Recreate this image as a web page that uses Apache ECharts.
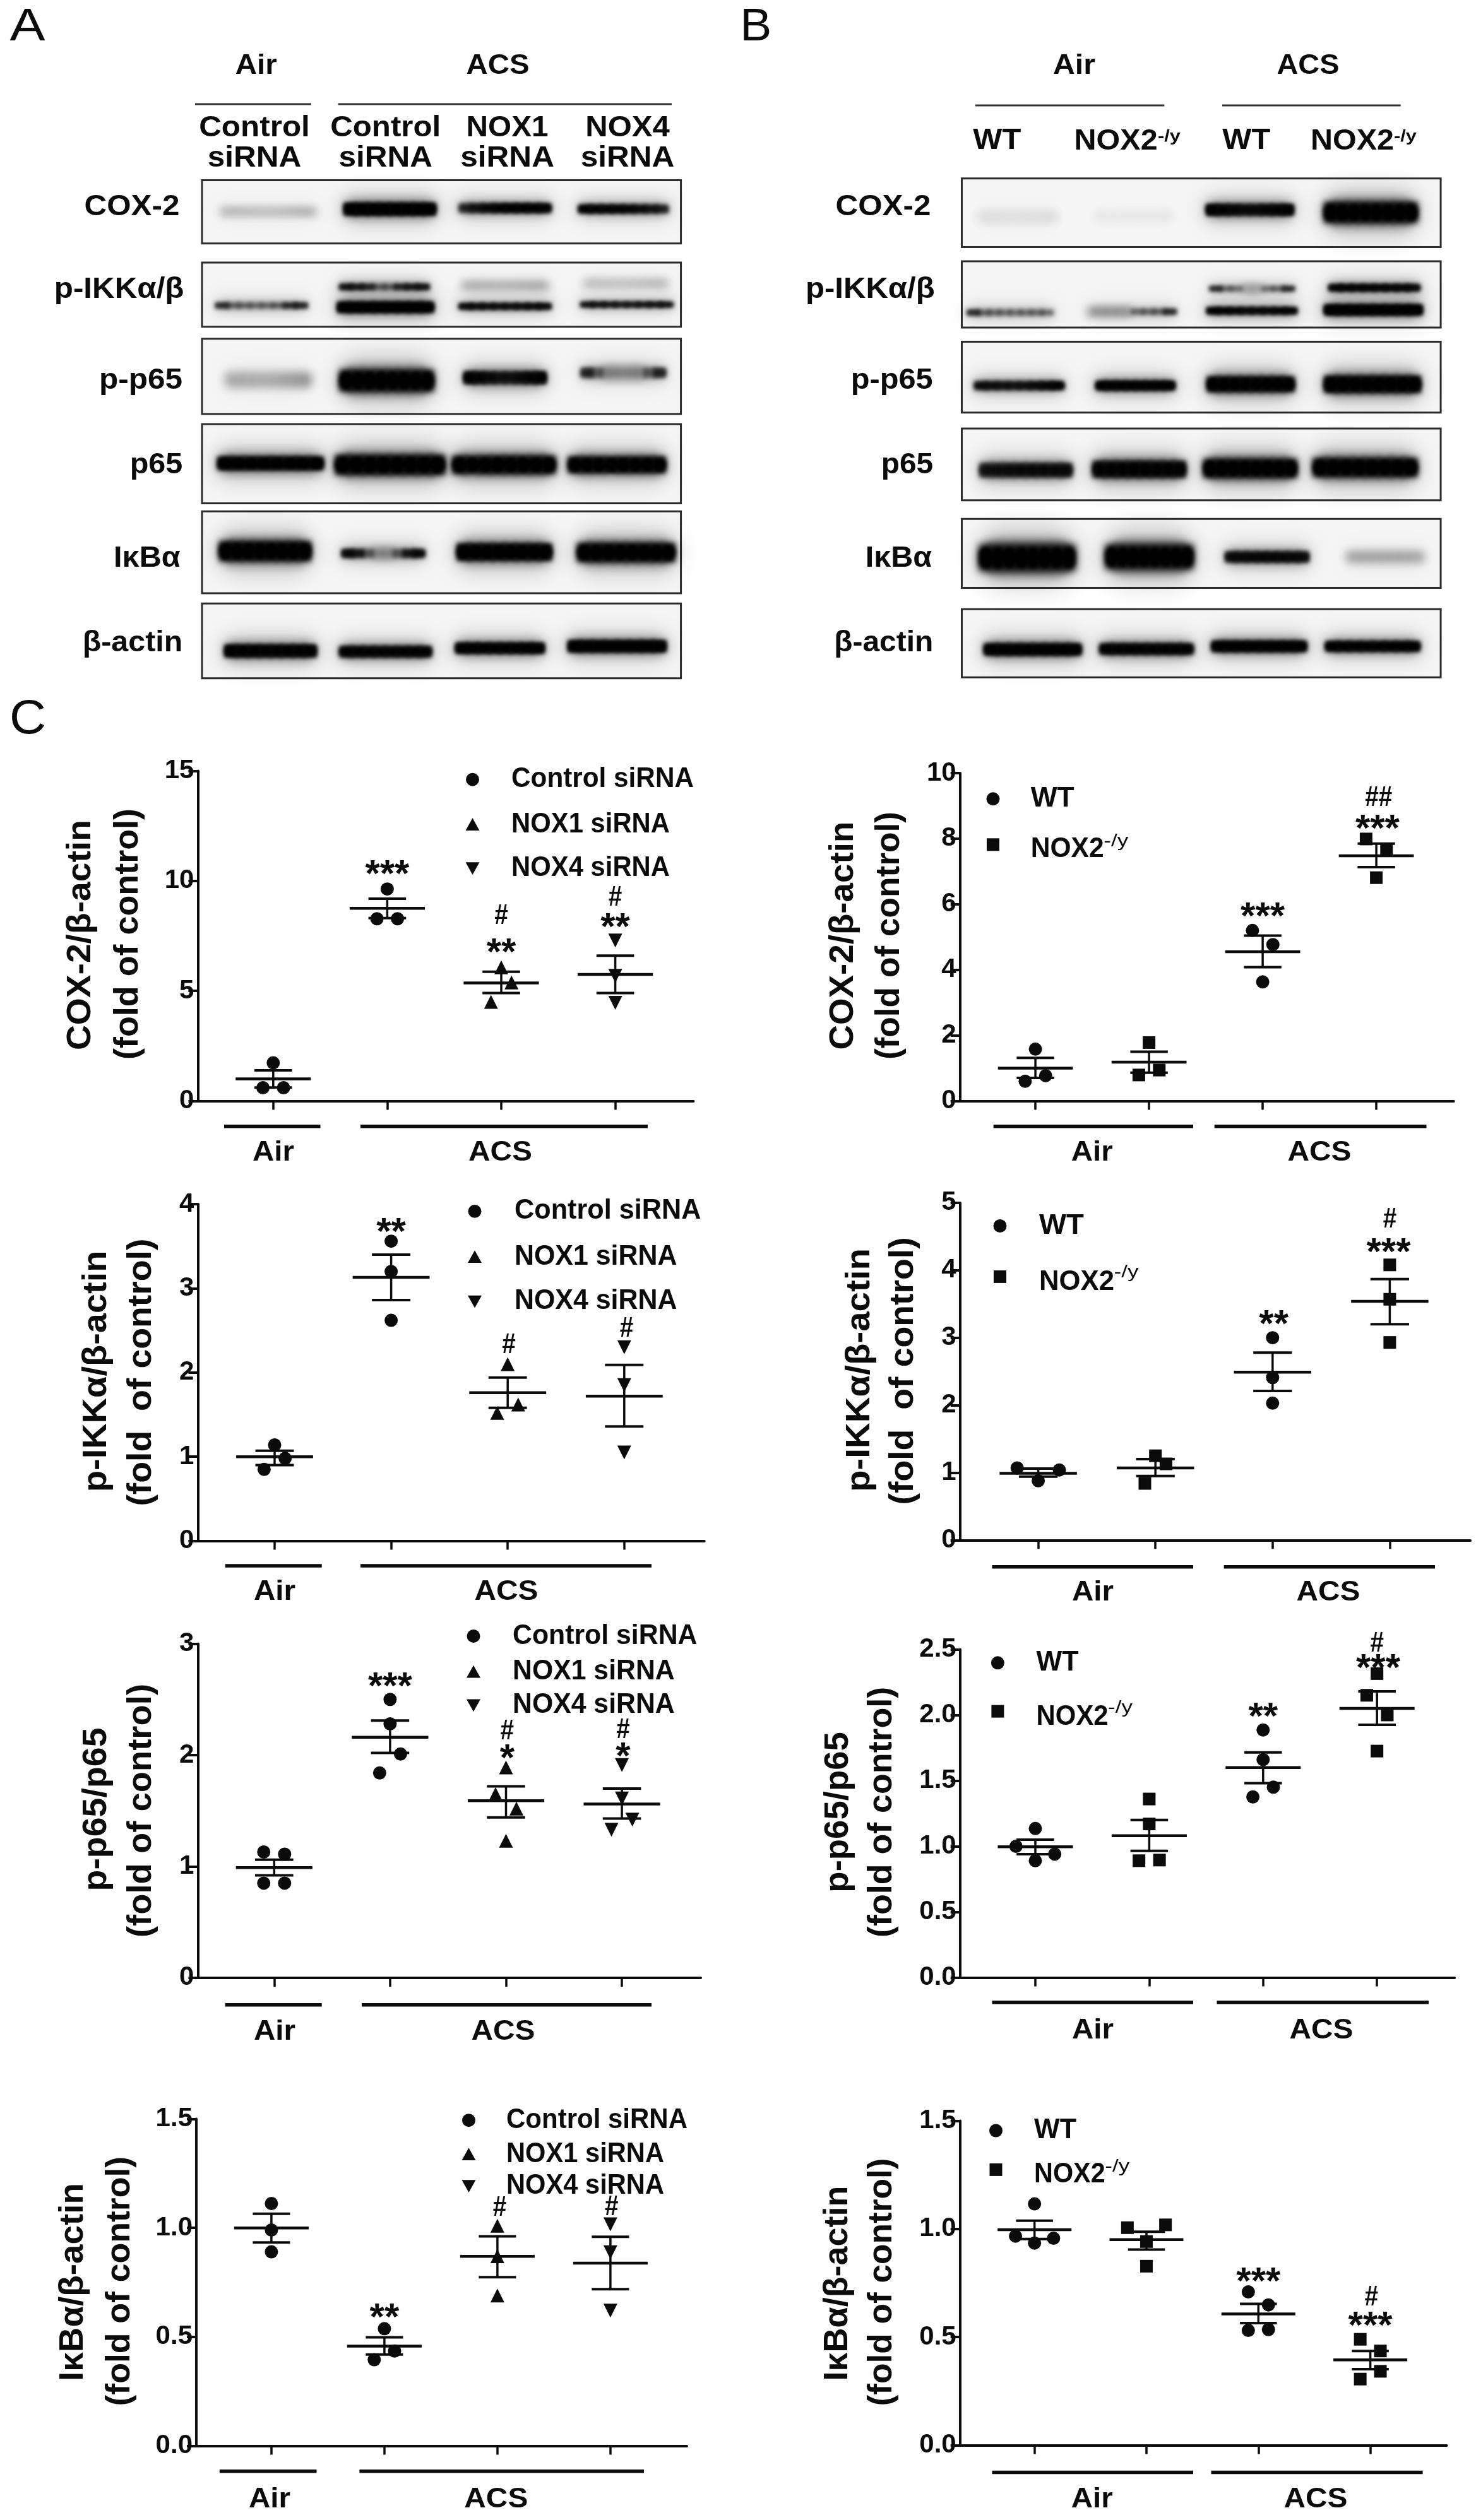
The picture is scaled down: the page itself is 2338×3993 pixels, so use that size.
<!DOCTYPE html>
<html><head><meta charset="utf-8">
<style>html,body{margin:0;padding:0;background:#fff}#c{width:2338px;height:3993px}</style>
<script src="https://cdn.jsdelivr.net/npm/echarts@6/dist/echarts.min.js"></script>
</head><body><div id="c"></div>
<script>
// ---------- categories / tick labels ----------
const treatmentGroups = ['Control siRNA', 'NOX1 siRNA', 'NOX4 siRNA'];
const genotypeGroups = ['WT', 'NOX2'];
const proteinRows = ['COX-2', 'p-IKKα/β', 'p-p65', 'p65', 'IκBα', 'β-actin'];

// ---------- quantification: points [x, value] ----------
const cox2A_control = [[1,1.73],[0.91,0.6],[1.09,0.6],[2,9.63],[1.91,8.28],[2.09,8.28]];
const cox2A_nox1 = [[3,6.07],[3.09,5.38],[2.91,4.5]];
const cox2A_nox4 = [[4,7.29],[4,5.68],[4,4.46]];
const cox2A_stats = [[1,1.0,1.39,0.61],[2,8.75,9.19,8.31],[3,5.36,5.87,4.9],[4,5.75,6.6,4.9]];
const cox2A_sig = [[2,10.62,'***'],[3,8.38,'#'],[3,7.04,'**'],[4,9.22,'#'],[4,8.2,'**']];

const cox2B_wt = [[1,1.58],[0.91,0.6],[1.09,0.77],[3,3.63],[2.91,5.2],[3.09,4.77]];
const cox2B_nox2 = [[2,1.78],[1.91,0.79],[2.09,0.94],[3.91,7.99],[4.09,7.64],[4,6.81]];
const cox2B_stats = [[1,1.0,1.31,0.7],[2,1.18,1.5,0.86],[3,4.55,5.04,4.08],[4,7.48,7.85,7.13]];
const cox2B_sig = [[3,5.83,'***'],[4.01,8.5,'***'],[4.02,9.24,'##']];

const ikkA_control = [[1,1.14],[1.09,0.98],[0.91,0.85],[2,3.56],[2,3.2],[2,2.62]];
const ikkA_nox1 = [[3,2.1],[3.09,1.62],[2.91,1.52]];
const ikkA_nox4 = [[4,2.3],[4,1.85],[4,1.05]];
const ikkA_stats = [[1,1.0,1.07,0.9],[2,3.13,3.4,2.86],[3,1.76,1.94,1.58],[4,1.72,2.09,1.36]];
const ikkA_sig = [[2,3.75,'**'],[3.01,2.32,'#'],[4.02,2.52,'#']];

const ikkB_wt = [[0.82,1.07],[1.18,1.04],[1,0.88],[3,3.0],[3,2.41],[3,2.03]];
const ikkB_nox2 = [[2,1.25],[2.09,1.13],[1.91,0.84],[4,4.08],[4,3.57],[4,2.93]];
const ikkB_stats = [[1,0.99,1.06,0.94],[2,1.07,1.2,0.95],[3,2.49,2.78,2.21],[4,3.54,3.87,3.2]];
const ikkB_sig = [[3.01,3.3,'**'],[3.99,4.37,'***'],[4,4.75,'#']];

const p65A_control = [[0.91,1.13],[1.09,1.11],[0.91,0.85],[1.09,0.85],[2,2.5],[2,2.28],[2.09,2.01],[1.91,1.84]];
const p65A_nox1 = [[3,1.89],[2.91,1.65],[3.09,1.52],[3,1.23]];
const p65A_nox4 = [[4,1.91],[4,1.61],[4.09,1.42],[3.91,1.33]];
const p65A_stats = [[1,0.99,1.06,0.92],[2,2.16,2.31,2.02],[3,1.59,1.72,1.44],[4,1.56,1.7,1.43]];
const p65A_sig = [[2,2.68,'***'],[3.01,2.21,'#'],[3.01,2.03,'*'],[4.01,2.22,'#'],[4.01,2.05,'*']];

const p65B_wt = [[1,1.135],[0.83,1.0],[1.17,0.94],[1,0.89],[3,1.886],[3,1.66],[3.09,1.45],[2.91,1.376]];
const p65B_nox2 = [[2,1.36],[2,1.17],[2.09,0.895],[1.91,0.89],[4,2.315],[3.91,2.15],[4.09,2.0],[4,1.725]];
const p65B_stats = [[1,0.996,1.05,0.94],[2,1.08,1.2,0.965],[3,1.6,1.715,1.48],[4,2.05,2.18,1.925]];
const p65B_sig = [[3,2.04,'**'],[4.01,2.41,'***'],[4,2.54,'#']];

const ikbA_control = [[1,1.112],[1,0.99],[1,0.89],[2,0.5375],[2.09,0.435],[1.91,0.395]];
const ikbA_nox1 = [[3,1.01],[3,0.87],[3,0.69]];
const ikbA_nox4 = [[4,1.016],[4,0.888],[4,0.62]];
const ikbA_stats = [[1,1.0,1.065,0.933],[2,0.457,0.498,0.419],[3,0.869,0.961,0.774],[4,0.838,0.959,0.719]];
const ikbA_sig = [[2,0.62,'**'],[3.02,1.09,'#'],[4.01,1.093,'#']];

const ikbB_wt = [[1,1.116],[0.83,0.967],[1.17,0.957],[1,0.935],[2.91,0.709],[3.09,0.649],[2.91,0.531],[3.09,0.535]];
const ikbB_nox2 = [[1.83,1.006],[2.17,1.019],[2,0.942],[2,0.828],[3.91,0.49],[4.09,0.436],[4.09,0.342],[3.91,0.306]];
const ikbB_stats = [[1,0.997,1.038,0.954],[2,0.951,0.987,0.905],[3,0.607,0.654,0.565],[4,0.395,0.436,0.352]];
const ikbB_sig = [[3,0.789,'***'],[4,0.583,'***'],[4.01,0.681,'#']];

// ---------- western blots: bands [from, to, centre, thickness, density left, mid, right] ----------
const blotA_cox2 = [[490,700,478,14,.3,.22,.35],[765,965,472,30,1,1,1],[1020,1220,470,22,.55,1,.95],[1285,1480,472,20,.95,.9,.6]];
const blotA_ikk = [[480,680,690,14,.65,.5,.7],[750,960,694,26,1,1,1],[755,950,648,14,.85,.55,.85],[1020,1220,692,14,.9,.8,.9],[1025,1215,645,14,.32,.28,.38],[1290,1490,688,12,.85,.75,.85],[1295,1480,640,14,.25,.2,.3]];
const blotA_pp65 = [[500,690,858,30,.25,.2,.38],[755,960,860,50,1,1,1],[1030,1210,853,30,1,.65,1],[1290,1475,842,24,.65,.38,.65]];
const blotA_p65 = [[485,715,1047,34,1,1,1],[745,985,1050,46,1,1,1],[1005,1230,1050,42,1,1,1],[1262,1475,1050,38,1,1,1]];
const blotA_ikb = [[488,688,1245,46,1,1,1],[760,940,1250,20,.95,.3,.95],[1015,1222,1247,40,1,1,1],[1282,1495,1248,44,1,1,1]];
const blotA_actin = [[500,700,1470,30,1,.95,.95],[755,955,1472,26,.95,.9,.95],[1012,1205,1464,26,1,.95,1],[1262,1475,1460,28,1,1,1]];
const blotB_cox2 = [[535,700,490,30,.07,.06,.08],[775,940,488,26,.04,.04,.05],[1010,1188,474,28,1,.75,1],[1255,1445,480,48,1,1,1]];
const blotB_ikk = [[515,690,706,14,.65,.5,.55],[765,945,704,14,.5,.5,.65],[1012,1195,702,16,1,.85,.95],[1018,1190,652,12,.7,.4,.7],[1255,1455,700,26,1,1,1],[1265,1450,650,16,.95,.95,.9]];
const blotB_pp65 = [[530,712,871,20,.8,.7,1],[782,942,871,22,1,1,1],[1012,1190,868,36,1,1,1],[1255,1452,868,40,1,1,1]];
const blotB_p65 = [[540,730,1062,34,.7,.8,.8],[775,965,1060,40,.9,.95,.9],[1005,1195,1058,44,1,1,1],[1232,1445,1056,44,1,1,1]];
const blotB_ikb = [[540,735,1260,60,1,1,1],[802,980,1258,56,1,1,1],[1050,1220,1258,26,.8,.85,.8],[1300,1460,1258,22,.3,.3,.28]];
const blotB_actin = [[550,748,1467,28,1,1,1],[790,980,1466,26,.95,.95,.95],[1022,1215,1460,26,1,1,1],[1258,1450,1460,24,1,.95,1]];

// ---------- layout (no data here) ----------
const SANS = '"Liberation Sans", Arial, sans-serif';
const INK = '#0b0b0b';
const blots = [
 {b:blotA_cox2,x:[448,1510],y:[407,550],sx:1.4,ox:0},{b:blotA_ikk,x:[448,1510],y:[593,738],sx:1.4,ox:0},
 {b:blotA_pp65,x:[448,1510],y:[765,935],sx:1.4,ox:0},{b:blotA_p65,x:[448,1510],y:[958,1137],sx:1.4,ox:0},
 {b:blotA_ikb,x:[448,1510],y:[1155,1340],sx:1.4,ox:0},{b:blotA_actin,x:[448,1510],y:[1363,1532],sx:1.4,ox:0},
 {b:blotB_cox2,x:[502,1495],y:[403,558],sx:1.309,ox:1140},{b:blotB_ikk,x:[502,1495],y:[590,740],sx:1.309,ox:1140},
 {b:blotB_pp65,x:[502,1495],y:[772,932],sx:1.309,ox:1140},{b:blotB_p65,x:[502,1495],y:[968,1130],sx:1.309,ox:1140},
 {b:blotB_ikb,x:[502,1495],y:[1172,1328],sx:1.309,ox:1140},{b:blotB_actin,x:[502,1495],y:[1376,1530],sx:1.309,ox:1140}
];
const C='circle',U='triangle',D='down',S='rect';
const plots = [
 {ser:[[treatmentGroups[0],cox2A_control,C],[treatmentGroups[1],cox2A_nox1,U],[treatmentGroups[2],cox2A_nox4,D]],stats:cox2A_stats,sig:cox2A_sig,
  l:313.4,r:1098.5,t:1221.4,b:1744.4,t1:432.8,sp:180.6,max:15,iv:5,dec:0},
 {ser:[[genotypeGroups[0],cox2B_wt,C],[genotypeGroups[1],cox2B_nox2,S]],stats:cox2B_stats,sig:cox2B_sig,
  l:1520.7,r:2302.8,t:1225,b:1744.4,t1:1640.1,sp:180,max:10,iv:2,dec:0},
 {ser:[[treatmentGroups[0],ikkA_control,C],[treatmentGroups[1],ikkA_nox1,U],[treatmentGroups[2],ikkA_nox4,D]],stats:ikkA_stats,sig:ikkA_sig,
  l:313.4,r:1115.7,t:1908,b:2441.6,t1:435,sp:184.6,max:4,iv:1,dec:0},
 {ser:[[genotypeGroups[0],ikkB_wt,C],[genotypeGroups[1],ikkB_nox2,S]],stats:ikkB_stats,sig:ikkB_sig,
  l:1520.7,r:2329,t:1905.9,b:2440.3,t1:1644.6,sp:185.6,max:5,iv:1,dec:0},
 {ser:[[treatmentGroups[0],p65A_control,C],[treatmentGroups[1],p65A_nox1,U],[treatmentGroups[2],p65A_nox4,D]],stats:p65A_stats,sig:p65A_sig,
  l:313.4,r:1110,t:2604.5,b:3133.9,t1:434.3,sp:183.6,max:3,iv:1,dec:0},
 {ser:[[genotypeGroups[0],p65B_wt,C],[genotypeGroups[1],p65B_nox2,S]],stats:p65B_stats,sig:p65B_sig,
  l:1520.7,r:2304,t:2613.4,b:3133.5,t1:1640,sp:180.4,max:2.5,iv:.5,dec:1},
 {ser:[[treatmentGroups[0],ikbA_control,C],[treatmentGroups[1],ikbA_nox1,U],[treatmentGroups[2],ikbA_nox4,D]],stats:ikbA_stats,sig:ikbA_sig,
  l:311,r:1088,t:3357.5,b:3875.4,t1:429.9,sp:179,max:1.5,iv:.5,dec:1},
 {ser:[[genotypeGroups[0],ikbB_wt,C],[genotypeGroups[1],ikbB_nox2,S]],stats:ikbB_stats,sig:ikbB_sig,
  l:1520.7,r:2291.6,t:3360.5,b:3874.6,t1:1638.7,sp:177.3,max:1.5,iv:.5,dec:1}
];

// ---------- helpers ----------
const ctx = document.createElement('canvas').getContext('2d');
const G = [];
function T(text,cx,cy,size,w,o){
  o=o||{};
  const font=(o.weight||'bold')+' '+size+'px '+SANS;
  ctx.font=font;
  const sc=w?w/ctx.measureText(text).width:1;
  G.push({type:'text',x:cx,y:cy,rotation:o.rot?Math.PI/2:0,scaleX:sc,z:50,
    style:{text:text,font:font,fill:o.fill||INK,align:'center',verticalAlign:'middle'}});
}
function L(x1,x2,y,lw,col){
  G.push({type:'line',z:40,shape:{x1:x1,y1:y,x2:x2,y2:y},style:{stroke:col||INK,lineWidth:lw}});
}
function Mk(kind,x,y){
  const s=11;
  if(kind==='circle')G.push({type:'circle',z:40,shape:{cx:x,cy:y,r:s-.5},style:{fill:INK}});
  else if(kind==='rect')G.push({type:'rect',z:40,shape:{x:x-s+1,y:y-s+1,width:2*s-2,height:2*s-2},style:{fill:INK}});
  else {const d=kind==='down'?-1:1;
    G.push({type:'polygon',z:40,shape:{points:[[x-s,y+d*s*.85],[x+s,y+d*s*.85],[x,y-d*s*.95]]},style:{fill:INK}});}
}

// panel letters
T('A',43.6,43.5,73,56,{weight:'normal'});
T('B',1197.3,43.5,73,50,{weight:'normal'});
T('C',44,1141,76,58,{weight:'normal'});

// blot headers A
T('Air',405.7,105.2,44,66); T('ACS',788.6,105.2,44,100);
L(309,493,164.9,3,'#333'); L(535.7,1064,164.9,3,'#333');
[['Control',403,175.7],['Control',610.7,175],['NOX1',803.6,130],['NOX4',994,133.6]].forEach(a=>T(a[0],a[1],203.4,47,a[2]));
[403,610.7,803.6,994].forEach(x=>T('siRNA',x,251,47,148.6));
// blot headers B
T('Air',1701.5,105.2,44,67); T('ACS',2072,105.2,44,99);
L(1544.9,1844.3,167,3,'#333'); L(1936,2218.7,167,3,'#333');
T('WT',1579.3,223,47,76); T('WT',1974.3,223,47,76);
T('NOX2',1767.6,224.5,47,132); T('NOX2',2142,224.5,47,132);
T('-/y',1852,217,26,36); T('-/y',2226,217,26,36);
// row labels
[[209,151,328.3],[188.6,205.7,459.5],[223,132,603.3],[247.5,83.6,736.6],[232.9,105.7,885.3],[210,158.6,1018.6]].forEach((a,i)=>T(proteinRows[i],a[0],a[2],47,a[1]));
[[1399,151,328.3],[1378.3,204.7,459.5],[1412.7,130,603.3],[1437,82.5,736.6],[1423.4,105.4,885.3],[1399.7,157,1018.6]].forEach((a,i)=>T(proteinRows[i],a[0],a[2],47,a[1]));

// y titles  [line1, cx, cy, len, line2, cx, cy, len]
[['COX-2/β-actin',128,1481.6,365,'(fold of control)',203,1480,398],
 ['COX-2/β-actin',1335.7,1482.6,362,'(fold of control)',1408.8,1482.6,393],
 ['p-IKKα/β-actin',153,2172.9,382.6,'(fold  of control)',224,2174.6,424],
 ['p-IKKα/β-actin',1362.5,2171,386,'(fold  of control)',1431,2172.4,424],
 ['p-p65/p65',153,2867,259,'(fold of control)',224,2869,402],
 ['p-p65/p65',1328,2871.4,254.5,'(fold of control)',1397.6,2871.4,397],
 ['IκBα/β-actin',115.7,3616,314,'(fold of control)',190,3614.7,395.6],
 ['IκBα/β-actin',1326.7,3618,309,'(fold of control)',1397.6,3616,393]
].forEach(a=>{T(a[0],a[1],a[2],54,a[3],{rot:1});T(a[4],a[5],a[6],54,a[7],{rot:1});});

// group bars + labels  [y, air x1,x2, acs x1,x2, labelY, airCx, acsCx]
[[1784.7,355,507.5,571,1026,1827,433,792.5],
 [1784.7,1573.7,1890,1923.7,2259.5,1827,1729.7,2090],
 [2480.9,356.7,509.7,571,1032,2522.9,435,802],
 [2482.7,1571.5,1890,1938.7,2273,2523.8,1731,2104],
 [3176.8,356.7,509.7,573,1032,3219.6,435,797],
 [3172.8,1571.5,1890,1927.5,2263,3218.3,1731,2093],
 [3915.7,347.8,501.5,569.4,1020,3960.7,426.9,785.8],
 [3917.4,1571.5,1890,1918.5,2253.6,3960.7,1729.7,2084]
].forEach(a=>{L(a[1],a[2],a[0],5.5);L(a[3],a[4],a[0],5.5);T('Air',a[6],a[5],44,66);T('ACS',a[7],a[5],44,101);});

// legends
[[748.5,810,289,251,1235.2,1306.6,1375.5],[752,815,295.5,257.5,1919.3,1991.6,2062],
 [750,812,292.5,256.7,2592.4,2649.1,2701.8],[742.5,802,287,250,3359.7,3413.6,3463.5]
].forEach(a=>{
  [C,U,D].forEach((k,i)=>{Mk(k,a[0],a[4+i]);
    const w=i?a[3]:a[2];T(treatmentGroups[i],a[1]+w/2,a[4+i],44,w);});
});
// [markerX, textX, wtW, noxW, wtY, markerY, noxY, supY]
[[1573,1632.7,69,116,1265.8,1338.3,1346,1333.7],[1584,1646,71,119,1942.5,2022.9,2031.8,2016],
 [1580.4,1641.6,67,114,2634.8,2711.6,2720.5,2706.3],[1577.5,1638,67,112.7,3376,3437.9,3445.9,3433.5]
].forEach(a=>{
  Mk(C,a[0],a[4]);Mk(S,a[0],a[5]);
  T(genotypeGroups[0],a[1]+a[2]/2,a[4],44,a[2]);
  T(genotypeGroups[1],a[1]+a[3]/2,a[6],44,a[3]);
  T('-/y',a[1]+a[3]+19,a[7],28,39,{weight:'normal'});
});

// ---------- option ----------
const grid=[],xAxis=[],yAxis=[],series=[];
const FAR=4000; // shapes are painted off-canvas so that only their soft blurred shadow shows
blots.forEach((bl,i)=>{
  const pxX=z=>bl.ox+z/bl.sx, pxY=z=>z/1.4255;
  grid.push({show:true,left:pxX(bl.x[0]),top:pxY(bl.y[0]),width:pxX(bl.x[1])-pxX(bl.x[0]),height:pxY(bl.y[1])-pxY(bl.y[0]),
    backgroundColor:'#f5f5f5',borderColor:'#2c2c2c',borderWidth:3});
  xAxis.push({gridIndex:i,type:'value',min:bl.x[0],max:bl.x[1],show:false});
  yAxis.push({gridIndex:i,type:'value',min:bl.y[0],max:bl.y[1],inverse:true,show:false});
  series.push({type:'custom',xAxisIndex:i,yAxisIndex:i,silent:true,data:bl.b,
    encode:{x:[0,1],y:2},
    renderItem:function(p,api){
      const a=api.coord([api.value(0),api.value(2)]),b=api.coord([api.value(1),api.value(2)]);
      const h=api.size([0,api.value(3)])[1],dL=api.value(4),dM=api.value(5),dR=api.value(6);
      const w=b[0]-a[0],dm=(dL+dM+dR)/3,children=[];
      const soft=(x,wd,k,blur,alpha)=>({type:'rect',
        shape:{x:x-FAR,y:a[1]-h*k/2,width:wd,height:h*k,r:Math.min(h*k,wd)/2},
        style:{fill:'#000',shadowBlur:blur,shadowColor:'rgba(0,0,0,'+alpha.toFixed(3)+')',shadowOffsetX:FAR}});
      // wide haze around the band
      children.push(soft(a[0]-8,w+16,2.4,34,.16*dm));
      children.push(soft(a[0]-2,w+4,1.45,16,.42*dm));
      // core: abutting pieces, so the density can change along the band
      const n=8,sw=w/n;
      for(let s=0;s<n;s++){
        const t=(s+.5)/n;
        const d=t<.5?dL+(dM-dL)*t*2:dM+(dR-dM)*(t-.5)*2;
        const ov=d>.5?2:0;
        const piece=soft(a[0]+s*sw-ov,sw+2*ov,1,d>.5?Math.max(6,h*.28):Math.max(14,h*.4),Math.min(1,.92*d));
        piece.shape.r=0;
        children.push(piece);
        if(d>.6)children.push(soft(a[0]+s*sw-2,sw+4,.78,6,Math.min(1,d)));
      }
      return {type:'group',children:children};
    }});
});
plots.forEach((p,k)=>{
  const i=k+blots.length;
  grid.push({left:p.l,top:p.t,width:p.r-p.l,height:p.b-p.t});
  xAxis.push({gridIndex:i,type:'value',min:1+(p.l-p.t1)/p.sp,max:1+(p.r-p.t1)/p.sp,
    splitLine:{show:false},axisLabel:{show:false},
    axisLine:{onZero:false,lineStyle:{color:INK,width:4}},
    axisTick:{show:true,length:14,customValues:[1,2,3,4],lineStyle:{color:INK,width:3.5}}});
  yAxis.push({gridIndex:i,type:'value',min:0,max:p.max,interval:p.iv,
    splitLine:{show:false},
    axisLine:{show:true,onZero:false,lineStyle:{color:INK,width:4}},
    axisTick:{show:true,length:15,lineStyle:{color:INK,width:4}},
    axisLabel:{margin:6,color:INK,fontFamily:SANS,fontWeight:'bold',fontSize:42,
      formatter:v=>v.toFixed(p.dec)}});
  p.ser.forEach(s=>{
    series.push({type:'scatter',name:s[0],xAxisIndex:i,yAxisIndex:i,data:s[1],silent:true,
      symbol:s[2]===D?U:s[2],symbolRotate:s[2]===D?180:0,symbolSize:s[2]===C?21:(s[2]===S?20:22),
      itemStyle:{color:INK,opacity:1},z:3});
  });
  series.push({type:'custom',xAxisIndex:i,yAxisIndex:i,data:p.stats,silent:true,z:4,clip:false,
    encode:{x:0,y:[1,2,3]},
    renderItem:function(q,api){
      const x=api.value(0);
      const seg=(x1,y1,x2,y2,w)=>{const A=api.coord([x1,y1]),B=api.coord([x2,y2]);
        return {type:'line',shape:{x1:A[0],y1:A[1],x2:B[0],y2:B[1]},style:{stroke:INK,lineWidth:w}};};
      const m=api.value(1),h=api.value(2),l=api.value(3);
      return {type:'group',children:[seg(x-.33,m,x+.33,m,4.5),seg(x,l,x,h,3.5),
        seg(x-.165,h,x+.165,h,4),seg(x-.165,l,x+.165,l,4)]};
    }});
  series.push({type:'custom',xAxisIndex:i,yAxisIndex:i,data:p.sig.map(a=>[a[0],a[1]]),silent:true,z:5,clip:false,
    encode:{x:0,y:1},
    renderItem:function(q,api){
      const c=api.coord([api.value(0),api.value(1)]),str=p.sig[q.dataIndex][2],star=str[0]==='*';
      const size=star?60:44;
      return {type:'text',x:c[0],y:c[1]+(star?13:0),scaleX:star?1:.88,
        style:{text:str,font:'bold '+size+'px '+SANS,fill:INK,align:'center',verticalAlign:'middle'}};
    }});
});

const chart=echarts.init(document.getElementById('c'),null,{renderer:'canvas'});
chart.setOption({animation:false,backgroundColor:'#fff',grid,xAxis,yAxis,series,graphic:{elements:G}});
</script></body></html>
